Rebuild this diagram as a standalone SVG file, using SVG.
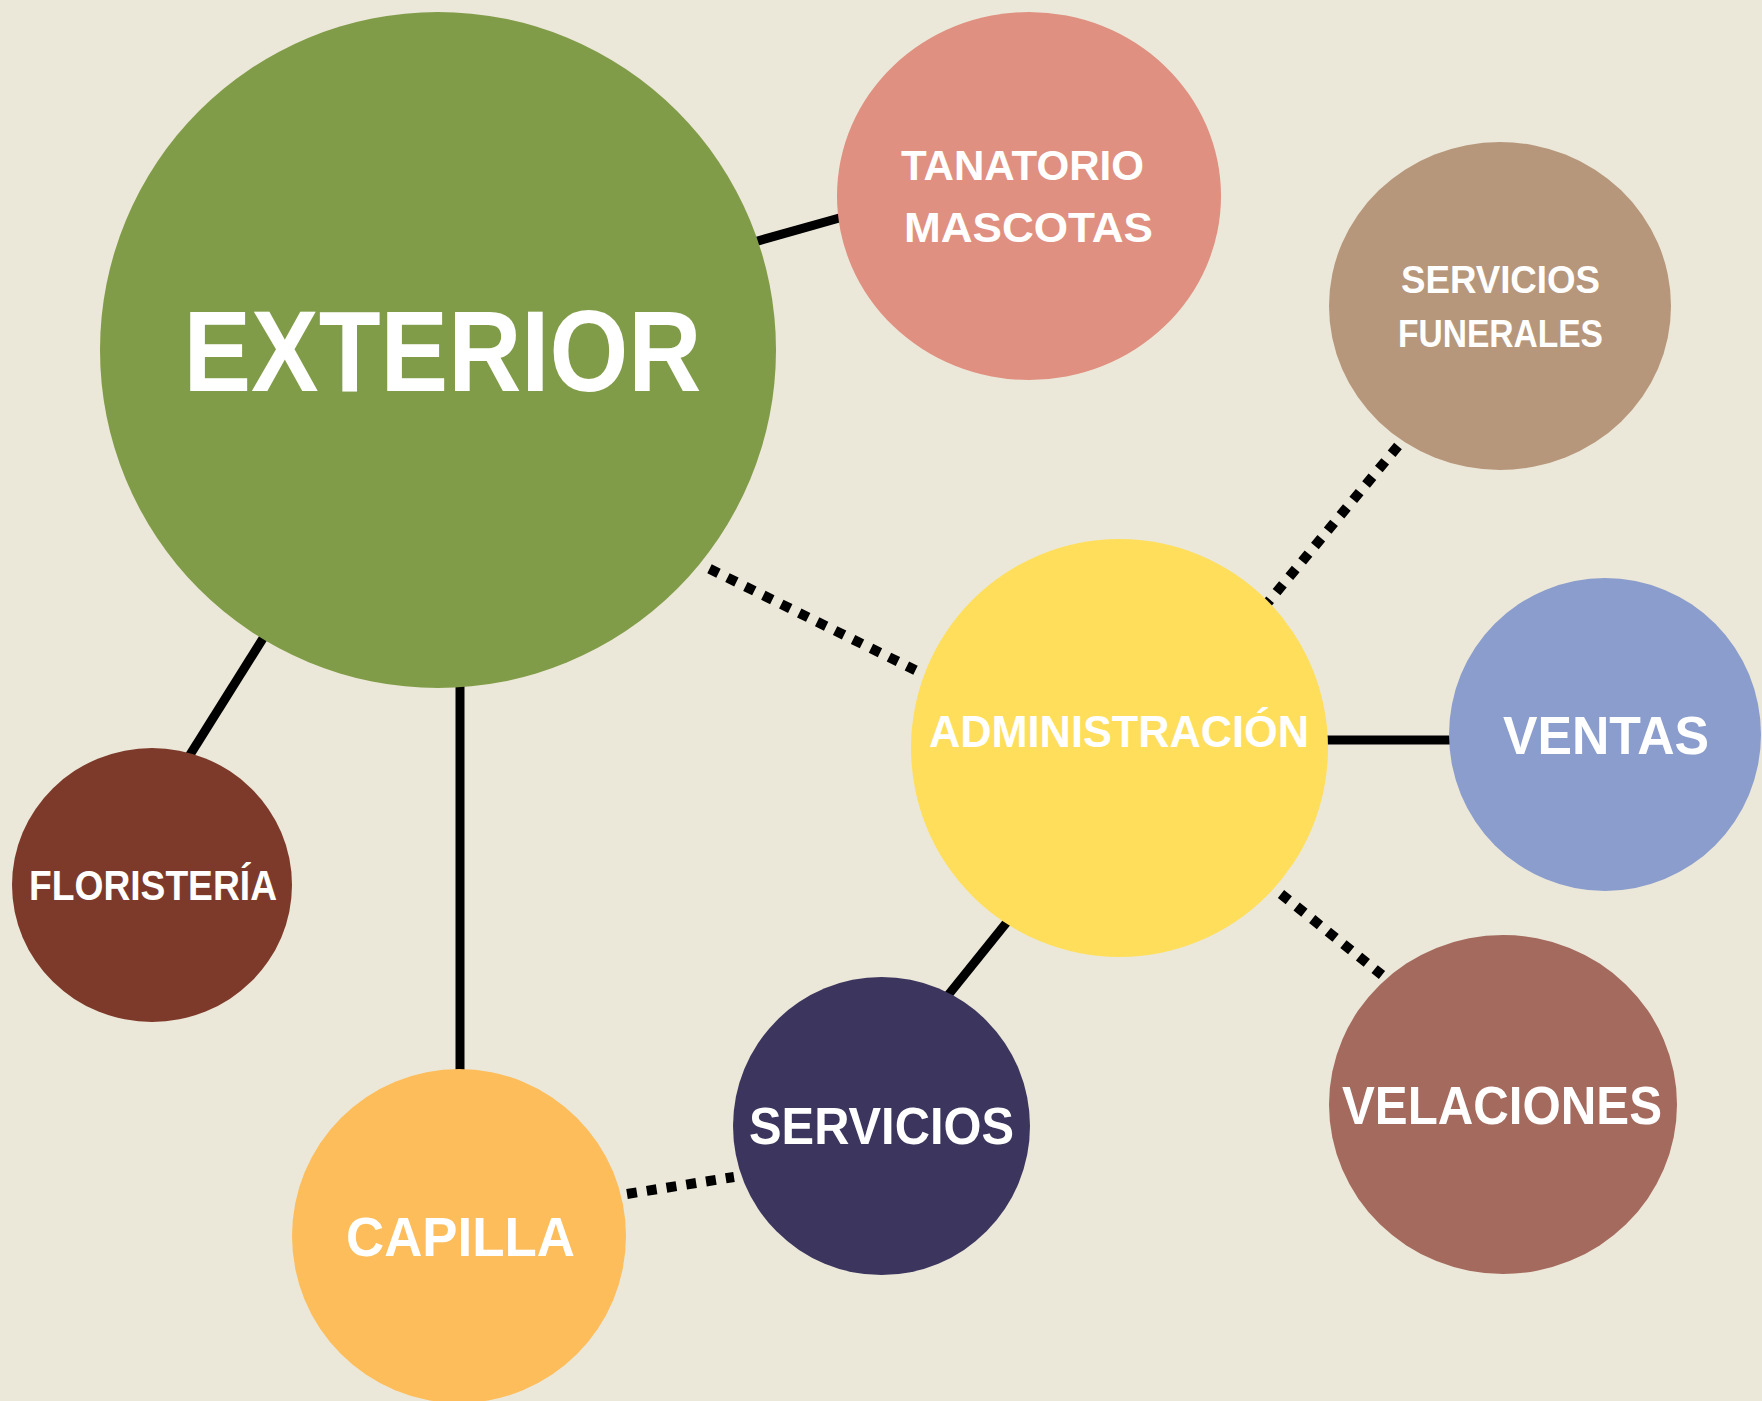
<svg xmlns="http://www.w3.org/2000/svg" width="1762" height="1401" viewBox="0 0 1762 1401">
<style>
.lbl{font-family:"Liberation Sans",Arial,sans-serif;font-weight:bold;fill:#ffffff}
.solid{stroke:#000;stroke-width:9;fill:none}
.dot{stroke:#000;stroke-width:10;fill:none;stroke-dasharray:10 10}
</style>
<rect width="1762" height="1401" fill="#ECE8D9"/>
<g id="connectors">
<line class="solid" x1="740" y1="246" x2="850" y2="215"/>
<line class="solid" x1="272" y1="624" x2="183" y2="766"/>
<line class="solid" x1="460" y1="680" x2="460" y2="1075"/>
<line class="solid" x1="1320" y1="740" x2="1455" y2="740"/>
<line class="solid" x1="1015" y1="912" x2="941" y2="1004"/>
<line class="dot" x1="709.5" y1="568.8" x2="915.5" y2="670.2"/>
<line class="dot" x1="1398" y1="446" x2="1255" y2="618"/>
<line class="dot" x1="1281" y1="894" x2="1382" y2="975"/>
<line class="dot" x1="627" y1="1194" x2="734" y2="1177"/>
</g>
<g id="exterior"><ellipse cx="438" cy="350" rx="338" ry="338" fill="#819C48"/><text class="lbl" x="183.5" y="391" font-size="115" textLength="518" lengthAdjust="spacingAndGlyphs">EXTERIOR</text></g>
<g id="tanatorio"><ellipse cx="1029" cy="196" rx="192" ry="184" fill="#DF9080"/><text class="lbl" x="901" y="180" font-size="43" textLength="243" lengthAdjust="spacingAndGlyphs">TANATORIO</text><text class="lbl" x="904" y="242" font-size="43" textLength="249" lengthAdjust="spacingAndGlyphs">MASCOTAS</text></g>
<g id="servicios-funerales"><ellipse cx="1500" cy="306" rx="171" ry="164" fill="#B7977B"/><text class="lbl" x="1401" y="293" font-size="39" textLength="199" lengthAdjust="spacingAndGlyphs">SERVICIOS</text><text class="lbl" x="1398" y="347" font-size="39" textLength="205" lengthAdjust="spacingAndGlyphs">FUNERALES</text></g>
<g id="administracion"><ellipse cx="1119.5" cy="748" rx="208.5" ry="209" fill="#FEDE5A"/><text class="lbl" x="929" y="747" font-size="45" textLength="380" lengthAdjust="spacingAndGlyphs">ADMINISTRACIÓN</text></g>
<g id="ventas"><ellipse cx="1605" cy="734.5" rx="156" ry="156.5" fill="#8B9DCC"/><text class="lbl" x="1503" y="754" font-size="54" textLength="206" lengthAdjust="spacingAndGlyphs">VENTAS</text></g>
<g id="floristeria"><ellipse cx="152" cy="885" rx="140" ry="137" fill="#7D3A2A"/><text class="lbl" x="29" y="900" font-size="42" textLength="248" lengthAdjust="spacingAndGlyphs">FLORISTERÍA</text></g>
<g id="capilla"><ellipse cx="459" cy="1236" rx="167" ry="167" fill="#FDBD5A"/><text class="lbl" x="346" y="1256" font-size="56" textLength="229" lengthAdjust="spacingAndGlyphs">CAPILLA</text></g>
<g id="servicios"><ellipse cx="881.5" cy="1126" rx="148.5" ry="149" fill="#3C365E"/><text class="lbl" x="749" y="1144" font-size="52" textLength="265" lengthAdjust="spacingAndGlyphs">SERVICIOS</text></g>
<g id="velaciones"><ellipse cx="1503" cy="1104.5" rx="174" ry="169.5" fill="#A46A5E"/><text class="lbl" x="1342" y="1124" font-size="53" textLength="320" lengthAdjust="spacingAndGlyphs">VELACIONES</text></g>
</svg>
